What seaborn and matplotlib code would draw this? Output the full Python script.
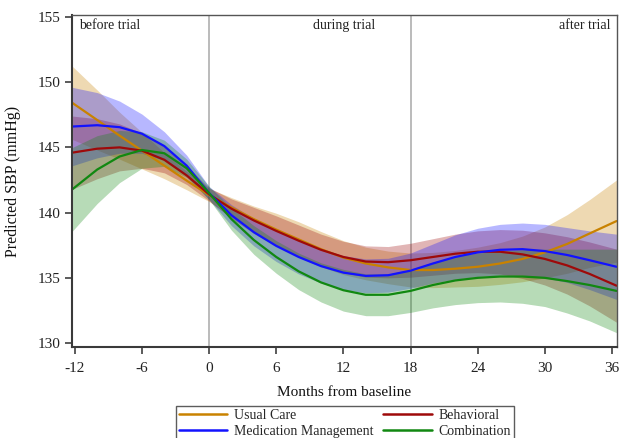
import numpy as np
import pandas as pd
import matplotlib
matplotlib.use("Agg")
import matplotlib.pyplot as plt
from matplotlib.lines import Line2D
import seaborn as sns

# ---- data ----
months = [-12.2, -10, -8, -6, -4, -2, 0, 2, 4, 6, 8, 10, 12, 14, 16, 18,
          20, 22, 24, 26, 28, 30, 32, 34, 36.4]

usual_care = [148.4, 147.1, 145.9, 144.75, 143.6, 142.45, 141.35, 140.4, 139.5,
              138.7, 137.95, 137.2, 136.55, 136.1, 135.8, 135.6, 135.6, 135.7,
              135.85, 136.1, 136.45, 136.95, 137.6, 138.4, 139.35]
usual_care_hw = [2.8, 2.3, 1.8, 1.4, 1.0, 0.7, 0.5, 0.75, 1.0, 1.25, 1.35, 1.35,
                 1.3, 1.25, 1.25, 1.3, 1.35, 1.4, 1.5, 1.6, 1.75, 1.95, 2.25,
                 2.6, 3.15]

behavioral = [144.6, 144.9, 145.0, 144.75, 144.05, 142.85, 141.4, 140.3, 139.4,
              138.6, 137.85, 137.15, 136.6, 136.25, 136.2, 136.35, 136.6, 136.85,
              137.0, 137.0, 136.8, 136.45, 135.95, 135.3, 134.4]
behavioral_hw = [2.8, 2.3, 1.8, 1.35, 1.0, 0.7, 0.5, 0.75, 1.0, 1.15, 1.2, 1.2,
                 1.2, 1.2, 1.2, 1.3, 1.4, 1.5, 1.6, 1.7, 1.85, 2.0, 2.2, 2.45,
                 2.8]

medication = [146.6, 146.7, 146.55, 146.05, 145.1, 143.6, 141.5, 139.8, 138.5,
              137.45, 136.6, 135.9, 135.4, 135.15, 135.2, 135.55, 136.1, 136.6,
              136.95, 137.15, 137.2, 137.05, 136.75, 136.35, 135.85]
medication_hw = [3.0, 2.5, 2.0, 1.5, 1.1, 0.8, 0.5, 0.8, 1.05, 1.2, 1.3, 1.3,
                 1.3, 1.3, 1.3, 1.35, 1.5, 1.7, 1.85, 1.95, 2.0, 2.05, 2.1,
                 2.25, 2.5]

combination = [141.8, 143.3, 144.3, 144.8, 144.55, 143.4, 141.5, 139.5, 137.9,
               136.6, 135.5, 134.65, 134.05, 133.7, 133.7, 134.0, 134.45, 134.8,
               135.0, 135.1, 135.1, 135.0, 134.75, 134.45, 134.0]
combination_hw = [3.2, 2.6, 2.0, 1.4, 1.0, 0.7, 0.5, 0.85, 1.1, 1.25, 1.4, 1.5,
                  1.6, 1.6, 1.6, 1.65, 1.75, 1.85, 1.9, 1.95, 2.05, 2.2, 2.45,
                  2.75, 3.2]

groups = ["Usual Care", "Behavioral", "Medication Management", "Combination"]
x_ticks = [-12, -6, 0, 6, 12, 18, 24, 30, 36]
y_ticks = [130, 135, 140, 145, 150, 155]
period_labels = ["before trial", "during trial", "after trial"]
period_bounds = [0, 18]

colors = {"Usual Care": "#C98200", "Behavioral": "#9E0A0A",
          "Medication Management": "#1212FF", "Combination": "#118811"}

means = {"Usual Care": usual_care, "Behavioral": behavioral,
         "Medication Management": medication, "Combination": combination}
hws = {"Usual Care": usual_care_hw, "Behavioral": behavioral_hw,
       "Medication Management": medication_hw, "Combination": combination_hw}

rows = []
for g in groups:
    for m, v, h in zip(months, means[g], hws[g]):
        rows.append({"month": m, "sbp": v, "lo": v - h, "hi": v + h, "group": g})
df = pd.DataFrame(rows)

sns.set_style("white")
plt.rcParams["font.family"] = ["Liberation Serif", "DejaVu Serif"]

fig = plt.figure(figsize=(6.19, 4.38), dpi=100)
ax = fig.add_axes([0.1163, 0.2078, 0.8805, 0.758])

for g in groups:
    d = df[df.group == g]
    ax.fill_between(d.month, d.lo, d.hi, color=colors[g], alpha=0.3, lw=0)

sns.lineplot(data=df, x="month", y="sbp", hue="group", hue_order=groups,
             palette=colors, errorbar=None, lw=1.6, legend=False, ax=ax)
for ln in ax.get_lines():
    ln.set_solid_joinstyle("round")

for b in period_bounds:
    ax.axvline(b, color="#A8A8A8", lw=1.1, zorder=0.5)

ax.set_xlim(-12.25, 36.45)
ax.set_ylim(129.7, 155.15)
ax.set_xticks(x_ticks)
ax.set_xticklabels([str(t) for t in x_ticks])
ax.set_yticks(y_ticks)
ax.set_yticklabels([str(t) for t in y_ticks])
ax.tick_params(axis="both", which="both", direction="out", length=5, width=1.2,
               color="#404040", labelsize=11, labelcolor="#222222", pad=3,
               left=True, bottom=True)
ax.tick_params(axis="x", pad=6)

for side in ["left", "bottom"]:
    ax.spines[side].set_color("#3A3A3A")
    ax.spines[side].set_linewidth(1.5)
for side in ["top", "right"]:
    ax.spines[side].set_visible(True)
    ax.spines[side].set_color("#555555")
    ax.spines[side].set_linewidth(1.0)

ax.set_xlabel("Months from baseline", fontsize=11, labelpad=8, color="#111111")
ax.set_ylabel("Predicted SBP (mmHg)", fontsize=11.5, labelpad=12, color="#111111")

ax.text(-11.6, 154.35, period_labels[0], ha="left", va="center", fontsize=10,
        color="#222222")
ax.text(14.85, 154.35, period_labels[1], ha="right", va="center", fontsize=10,
        color="#222222")
ax.text(35.9, 154.35, period_labels[2], ha="right", va="center", fontsize=10,
        color="#222222")

legend_order = ["Usual Care", "Medication Management", "Behavioral", "Combination"]
handles = [Line2D([], [], color=colors[g], lw=1.8) for g in legend_order]
leg = fig.legend(handles, legend_order, loc="upper center", ncol=2,
                 bbox_to_anchor=(0.557, 0.073), frameon=True, fancybox=False,
                 edgecolor="#333333", fontsize=10, handlelength=3.5,
                 handletextpad=0.45, columnspacing=0.75, labelspacing=0.2,
                 borderpad=0.2, borderaxespad=0)
leg.get_frame().set_linewidth(1.0)

fig.savefig("out.png", dpi=100)
